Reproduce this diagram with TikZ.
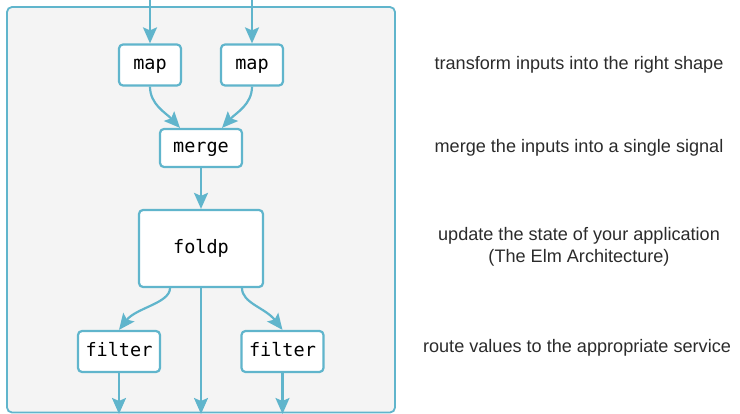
\documentclass[tikz,border=0pt]{standalone}
\usepackage{fontspec}
\setmainfont{Liberation Sans}
\newfontfamily\codefont{DejaVu Sans Mono}
\usetikzlibrary{arrows.meta,calc}
\definecolor{elmblue}{HTML}{60B5CC}
\definecolor{panelgray}{HTML}{F4F4F4}
\definecolor{txtgray}{HTML}{2B2B2B}
\begin{document}
\begin{tikzpicture}[x=1pt,y=-1pt,
  fn/.style={draw=elmblue, line width=2.2pt, fill=white, rounded corners=4pt,
    font=\codefont\fontsize{18.5}{20}\selectfont, text=black, inner sep=0pt,
    text height=10pt, text depth=0pt},
  flow/.style={draw=elmblue, line width=2.2pt,
    -{Stealth[length=16pt,width=14pt,inset=3pt]}},
  note/.style={font=\fontsize{18.1}{21.5}\selectfont, text=txtgray, anchor=base}]
\useasboundingbox (0,0) rectangle (740,414);
\draw[elmblue, fill=panelgray, line width=1.8pt, rounded corners=5pt] (7,7) rectangle (395,412.5);

\node[fn, minimum width=62pt, minimum height=41pt] (map1) at (150,65) {map};
\node[fn, minimum width=62pt, minimum height=41pt] (map2) at (252,65) {map};
\node[fn, minimum width=82pt, minimum height=38pt] (merge) at (201,148) {merge};
\node[fn, minimum width=124pt, minimum height=77pt] (foldp) at (201,248.5) {foldp};
\node[fn, minimum width=82pt, minimum height=41pt] (filter1) at (119,351.5) {filter};
\node[fn, minimum width=82pt, minimum height=41pt] (filter2) at (282.5,351.5) {filter};

\coordinate (in1) at (150,0);
\coordinate (in2) at (252,0);
\coordinate (out1) at (119,414);
\coordinate (out2) at (201,414);
\coordinate (out3) at (282.5,414);

\draw[flow] (in1) -- (map1);
\draw[flow] (in2) -- (map2);
\draw[flow] (map1.south) .. controls ($(map1.south)+(0,18)$) and ($(merge.north)+(-35,-15)$) .. ($(merge.north)+(-21,0)$);
\draw[flow] (map2.south) .. controls ($(map2.south)+(0,18)$) and ($(merge.north)+(35,-15)$) .. ($(merge.north)+(21,0)$);
\draw[flow] (merge) -- (foldp);
\draw[flow] ($(foldp.south)+(-31,0)$) .. controls ($(foldp.south)+(-31,15)$) and ($(filter1.north)+(17,-22)$) .. (filter1.north);
\draw[flow] ($(foldp.south)+(41,0)$) .. controls ($(foldp.south)+(41,15)$) and ($(filter2.north)+(-17,-22)$) .. (filter2.north);
\draw[flow] (foldp.south) -- (out2);
\draw[flow] (filter1) -- (out1);
\draw[flow] (filter2) -- (out3);

\node[note] (t1) at (579,69.5) {transform inputs into the right shape};
\node[note] (t2) at (579,152.5) {merge the inputs into a single signal};
\node[note] (t3a) at (579,241) {update the state of your application};
\node[note] (t3b) at (579,262.5) {(The Elm Architecture)};
\node[note] (t4) at (577,352.5) {route values to the appropriate service};
\end{tikzpicture}
\end{document}
